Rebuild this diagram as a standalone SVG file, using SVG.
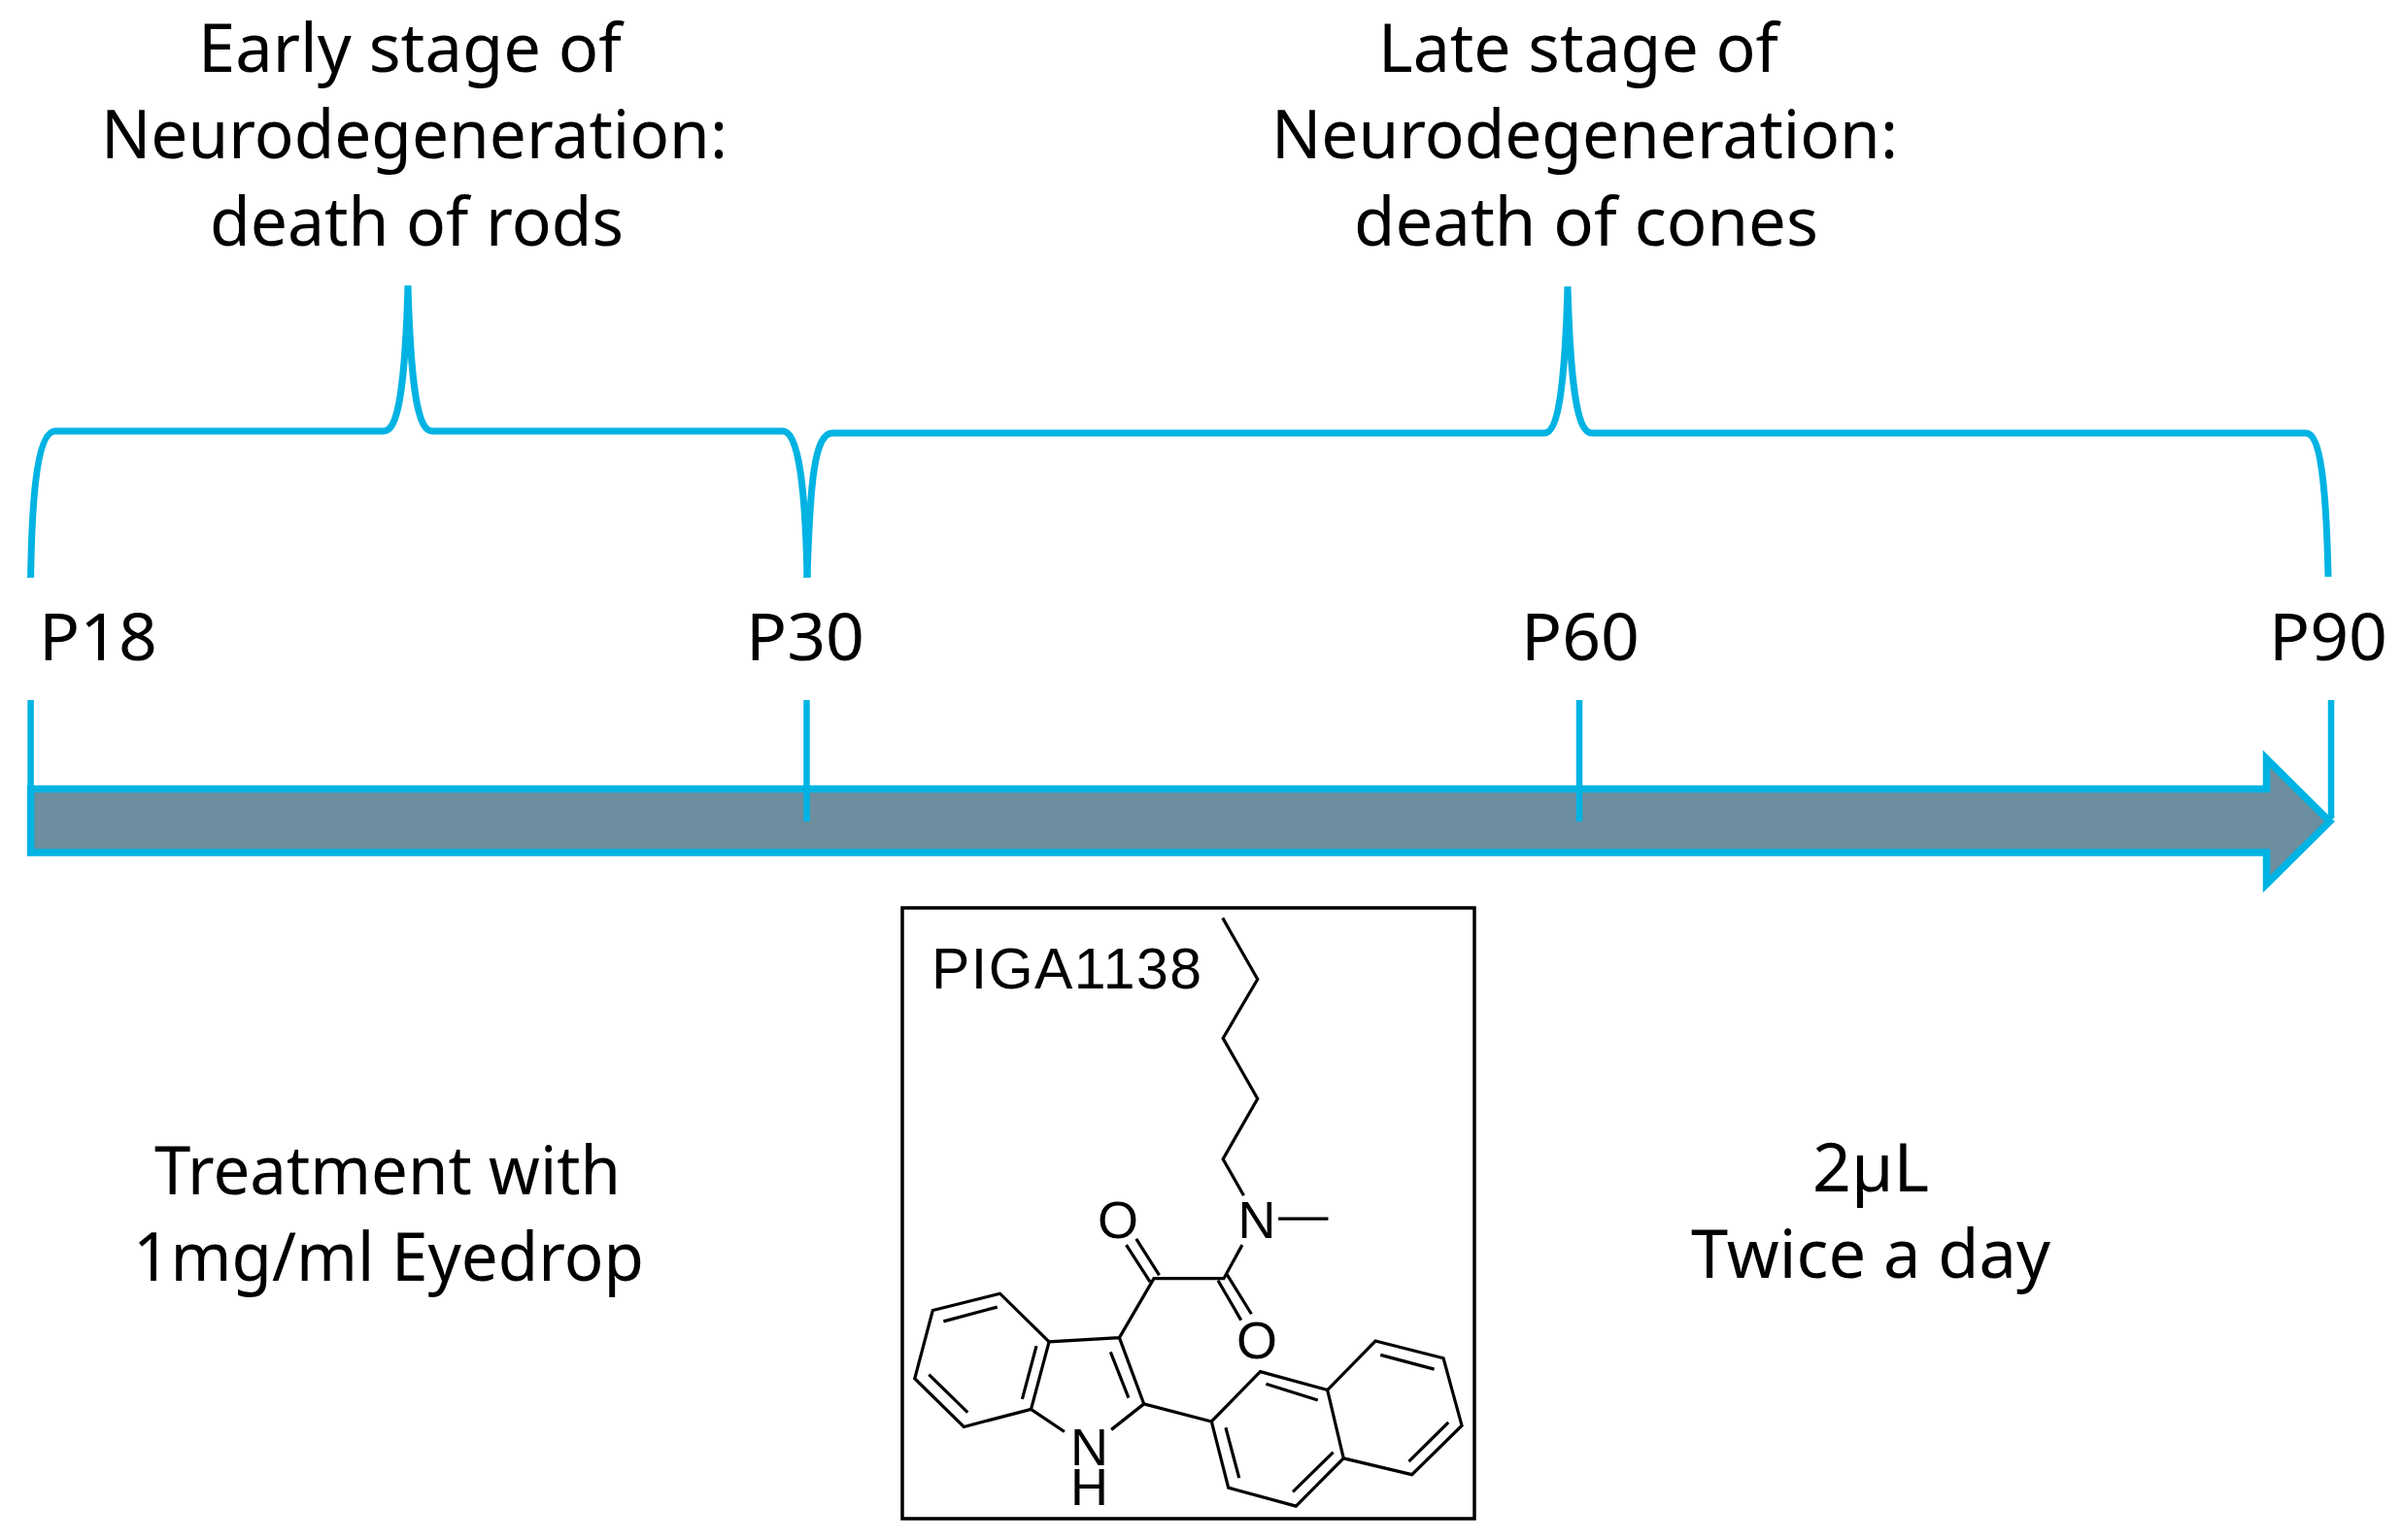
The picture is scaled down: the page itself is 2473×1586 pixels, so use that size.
<svg xmlns="http://www.w3.org/2000/svg" width="2473" height="1586" viewBox="0 0 2473 1586">
<style>
.t{font-family:"Noto Sans","Open Sans",sans-serif;fill:#000}
.big{font-size:70px}
.top{font-size:69px}
.p{font-size:68px}
.a{font-family:"Liberation Sans",Arial,sans-serif;fill:#000;font-size:54px;text-anchor:middle}
.br{fill:none;stroke:#00B3E3;stroke-width:7}
.tk{stroke:#00B3E3;stroke-width:6.5;fill:none}
.b{fill:none;stroke:#000;stroke-width:3.2;stroke-linejoin:miter;vector-effect:non-scaling-stroke}
</style>
<rect width="2473" height="1586" fill="#fff"/>
<g id="arrow"><path d="M31.6 812.5H2333.5V781.5L2398.6 846L2333.5 910.5V878H31.6Z" fill="#6C8E9E" stroke="#00B3E3" stroke-width="7.5"/></g>
<g id="connectors">
<path class="br" d="M31.6 595C33 500 40 444 57 444L395 444C410 444 417 400 420 294C423 400 430 444 445 444L806 444C822 444 829 500 831 595"/>
<path class="br" d="M831 595C834 500 838 446 857 446L1590 446C1604 446 1611 400 1614 295C1617 400 1624 446 1639 446L2374 446C2389 446 2395 500 2397 594"/>
<path class="tk" d="M31.6 721V812M830.5 721V846M1626 721V846M2400 721V843"/>
</g>
<g id="label-early"><text class="t top" x="204" y="74" textLength="436" lengthAdjust="spacingAndGlyphs">Early stage of</text><text class="t top" x="104" y="163" textLength="645" lengthAdjust="spacingAndGlyphs">Neurodegeneration:</text><text class="t top" x="216" y="253" textLength="426" lengthAdjust="spacingAndGlyphs">death of rods</text></g>
<g id="label-late"><text class="t top" x="1419" y="74" textLength="412" lengthAdjust="spacingAndGlyphs">Late stage of</text><text class="t top" x="1309" y="163" textLength="645" lengthAdjust="spacingAndGlyphs">Neurodegeneration:</text><text class="t top" x="1394" y="253" textLength="478" lengthAdjust="spacingAndGlyphs">death of cones</text></g>
<g id="p18"><text class="t p" x="40" y="680" textLength="122" lengthAdjust="spacingAndGlyphs">P18</text></g>
<g id="p30"><text class="t p" x="768" y="680" textLength="122" lengthAdjust="spacingAndGlyphs">P30</text></g>
<g id="p60"><text class="t p" x="1566" y="680" textLength="122" lengthAdjust="spacingAndGlyphs">P60</text></g>
<g id="p90"><text class="t p" x="2336" y="680" textLength="122" lengthAdjust="spacingAndGlyphs">P90</text></g>
<g id="label-treatment"><text class="t big" x="159" y="1230" textLength="480" lengthAdjust="spacingAndGlyphs">Treatment with</text><text class="t big" x="137" y="1319" textLength="526" lengthAdjust="spacingAndGlyphs">1mg/ml Eyedrop</text></g>
<g id="label-dose"><text class="t big" x="1866" y="1227" textLength="120" lengthAdjust="spacingAndGlyphs">2µL</text><text class="t big" x="1741" y="1316" textLength="370" lengthAdjust="spacingAndGlyphs">Twice a day</text></g>
<g id="compound">
<rect x="929" y="935" width="589" height="629" fill="#fff" stroke="#000" stroke-width="3.5"/>
<text x="959" y="1018" textLength="278" style="font-family:'Liberation Sans',Arial,sans-serif;font-size:59px;fill:#000">PIGA1138</text>
<g transform="translate(920 921) scale(.3953 .4209)">
<path class="b" d="M857 58L948 208L858 352L948 500L858 648L912 737M1002 794H1132M908 858L860 940H678L588 1085L405 1095L358 1260L183 1303L55 1185L102 1018L277 977L405 1095M606 858L668 948M632 843L692 932M845 945L905 1042M868 930L932 1027M130 1045L270 1010M92 1175L193 1268M372 1105L335 1235M588 1085L652 1247L567 1310M358 1260L445 1315M565 1120L612 1232M652 1247L828 1290L955 1168L1130 1213L1255 1093L1432 1135L1480 1300L1350 1420L1172 1380L1048 1497L872 1452L828 1290M1130 1213L1172 1380M970 1198L1105 1238M1268 1127L1408 1162M1445 1292L1342 1388M1145 1365L1040 1462M865 1305L900 1428"/>
</g>
<text class="a" x="1151" y="1275">O</text>
<text class="a" x="1294" y="1275">N</text>
<text class="a" x="1294" y="1399">O</text>
<text class="a" x="1121.5" y="1509">N</text>
<text class="a" x="1121.5" y="1550">H</text>
</g>
</svg>
